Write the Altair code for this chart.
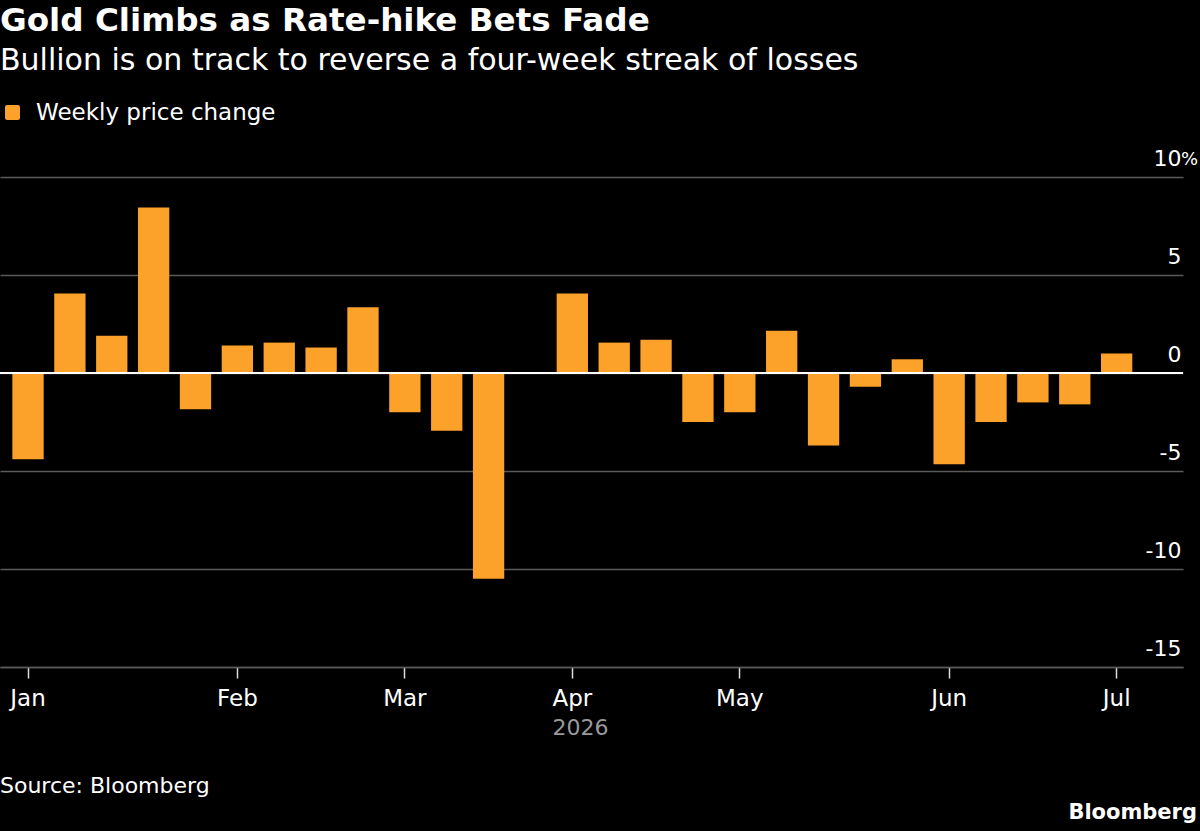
import altair as alt
import pandas as pd

# Weekly gold price change, % (week ending Friday)
weeks = [
    "2026-01-02", "2026-01-09", "2026-01-16", "2026-01-23", "2026-01-30",
    "2026-02-06", "2026-02-13", "2026-02-20", "2026-02-27",
    "2026-03-06", "2026-03-13", "2026-03-20", "2026-03-27",
    "2026-04-03", "2026-04-10", "2026-04-17", "2026-04-24",
    "2026-05-01", "2026-05-08", "2026-05-15", "2026-05-22", "2026-05-29",
    "2026-06-05", "2026-06-12", "2026-06-19", "2026-06-26",
    "2026-07-03",
]
changes = [
    -4.4, 4.05, 1.9, 8.45, -1.85,
    1.4, 1.55, 1.3, 3.35,
    -2.0, -2.95, -10.5, 0.05,
    4.05, 1.55, 1.7, -2.5,
    -2.0, 2.15, -3.7, -0.7, 0.7,
    -4.65, -2.5, -1.5, -1.6,
    1.0,
]

# First week of each month carries the month label
month_weeks = ["2026-01-02", "2026-02-06", "2026-03-06", "2026-04-03",
               "2026-05-01", "2026-06-05", "2026-07-03"]
month_names = ["Jan", "Feb", "Mar", "Apr", "May", "Jun", "Jul"]
year_label = "2026"

y_ticks = [-15, -10, -5, 0, 5, 10]

title_text = "Gold Climbs as Rate-hike Bets Fade"
subtitle_text = "Bullion is on track to reverse a four-week streak of losses"
series_name = "Weekly price change"
source_text = "Source: Bloomberg"
brand_text = "Bloomberg"

ORANGE = "#fca12a"
GRID = "#5a5a5a"
FONT = "DejaVu Sans"
W, H = 1183, 490

df = pd.DataFrame({"week": weeks, "change": changes, "series": series_name})

month_expr = "".join(
    f"datum.value == '{w}' ? '{m}' : " for w, m in zip(month_weeks, month_names)
) + "''"

rounded_square = ("M-0.7,-1 H0.7 Q1,-1 1,-0.7 V0.7 Q1,1 0.7,1 H-0.7 "
                  "Q-1,1 -1,0.7 V-0.7 Q-1,-1 -0.7,-1 Z")

x_enc = alt.X(
    "week:O",
    sort=weeks,
    scale=alt.Scale(paddingInner=0.252, paddingOuter=0.753, align=0.196),
    axis=alt.Axis(
        values=month_weeks,
        labelExpr=month_expr,
        labelAngle=0,
        labelColor="white",
        labelFont=FONT,
        labelFontSize=23,
        labelBaseline="alphabetic",
        labelPadding=27,
        domainColor=GRID,
        domainWidth=1.5,
        tickColor="#dddddd",
        tickSize=11,
        tickWidth=1.5,
        title=year_label,
        titleColor="#9a9a9a",
        titleFont=FONT,
        titleFontSize=22,
        titleFontWeight="normal",
        titleX=580,
        titleY=67,
        titleAlign="center",
        titleBaseline="alphabetic",
    ),
)

y_scale = alt.Scale(domain=[-15, 10], nice=False, zero=False)

bars = alt.Chart(df).mark_bar().encode(
    x=x_enc,
    y=alt.Y(
        "change:Q",
        scale=y_scale,
        axis=alt.Axis(
            orient="right",
            values=y_ticks,
            labelExpr="toString(datum.value)",
            grid=True,
            gridColor=GRID,
            gridWidth=1.5,
            domain=False,
            ticks=False,
            tickSize=0,
            labelAlign="right",
            labelBaseline="alphabetic",
            labelPadding=-2,
            labelOffset=-12,
            labelColor="white",
            labelFont=FONT,
            labelFontSize=22,
            title=None,
        ),
    ),
    color=alt.Color(
        "series:N",
        scale=alt.Scale(domain=[series_name], range=[ORANGE]),
        legend=alt.Legend(
            orient="none",
            legendX=1,
            legendY=-76,
            title=None,
            padding=0,
            symbolType=rounded_square,
            symbolSize=225,
            symbolOpacity=1,
            symbolStrokeWidth=0,
            labelOffset=12,
            labelLimit=0,
            labelColor="white",
            labelFont=FONT,
            labelFontSize=23,
        ),
    ),
)

zero_line = alt.Chart(pd.DataFrame({"v": [0]})).mark_rule(
    color="white", strokeWidth=2
).encode(y=alt.Y("v:Q", scale=y_scale))

percent = alt.Chart(pd.DataFrame({"v": [10], "t": ["%"]})).mark_text(
    align="left", baseline="alphabetic", dy=-12, color="white",
    font=FONT, fontSize=18,
).encode(y=alt.Y("v:Q", scale=y_scale), x=alt.value(W - 2), text="t:N")


def caption(text, x, y, size, weight="normal", align="left", color="white"):
    return alt.Chart(pd.DataFrame({"t": [text]})).mark_text(
        align=align, baseline="alphabetic", color=color, font=FONT,
        fontSize=size, fontWeight=weight,
    ).encode(x=alt.value(x), y=alt.value(y), text="t:N")


chart = alt.layer(
    bars,
    zero_line,
    percent,
    caption(title_text, 0, -146, 32.6, weight="bold"),
    caption(subtitle_text, 0, -107, 30),
    caption(source_text, 0, 616, 22),
    caption(brand_text, 1197, 642, 21, weight="bold", align="right"),
).properties(
    width=W,
    height=H,
    autosize=alt.AutoSizeParams(type="none"),
    padding={"left": 0, "top": 177, "right": 17, "bottom": 164},
    background="black",
).configure_view(stroke=None)

chart.save("out.html", embed_options={"renderer": "svg", "actions": False})
